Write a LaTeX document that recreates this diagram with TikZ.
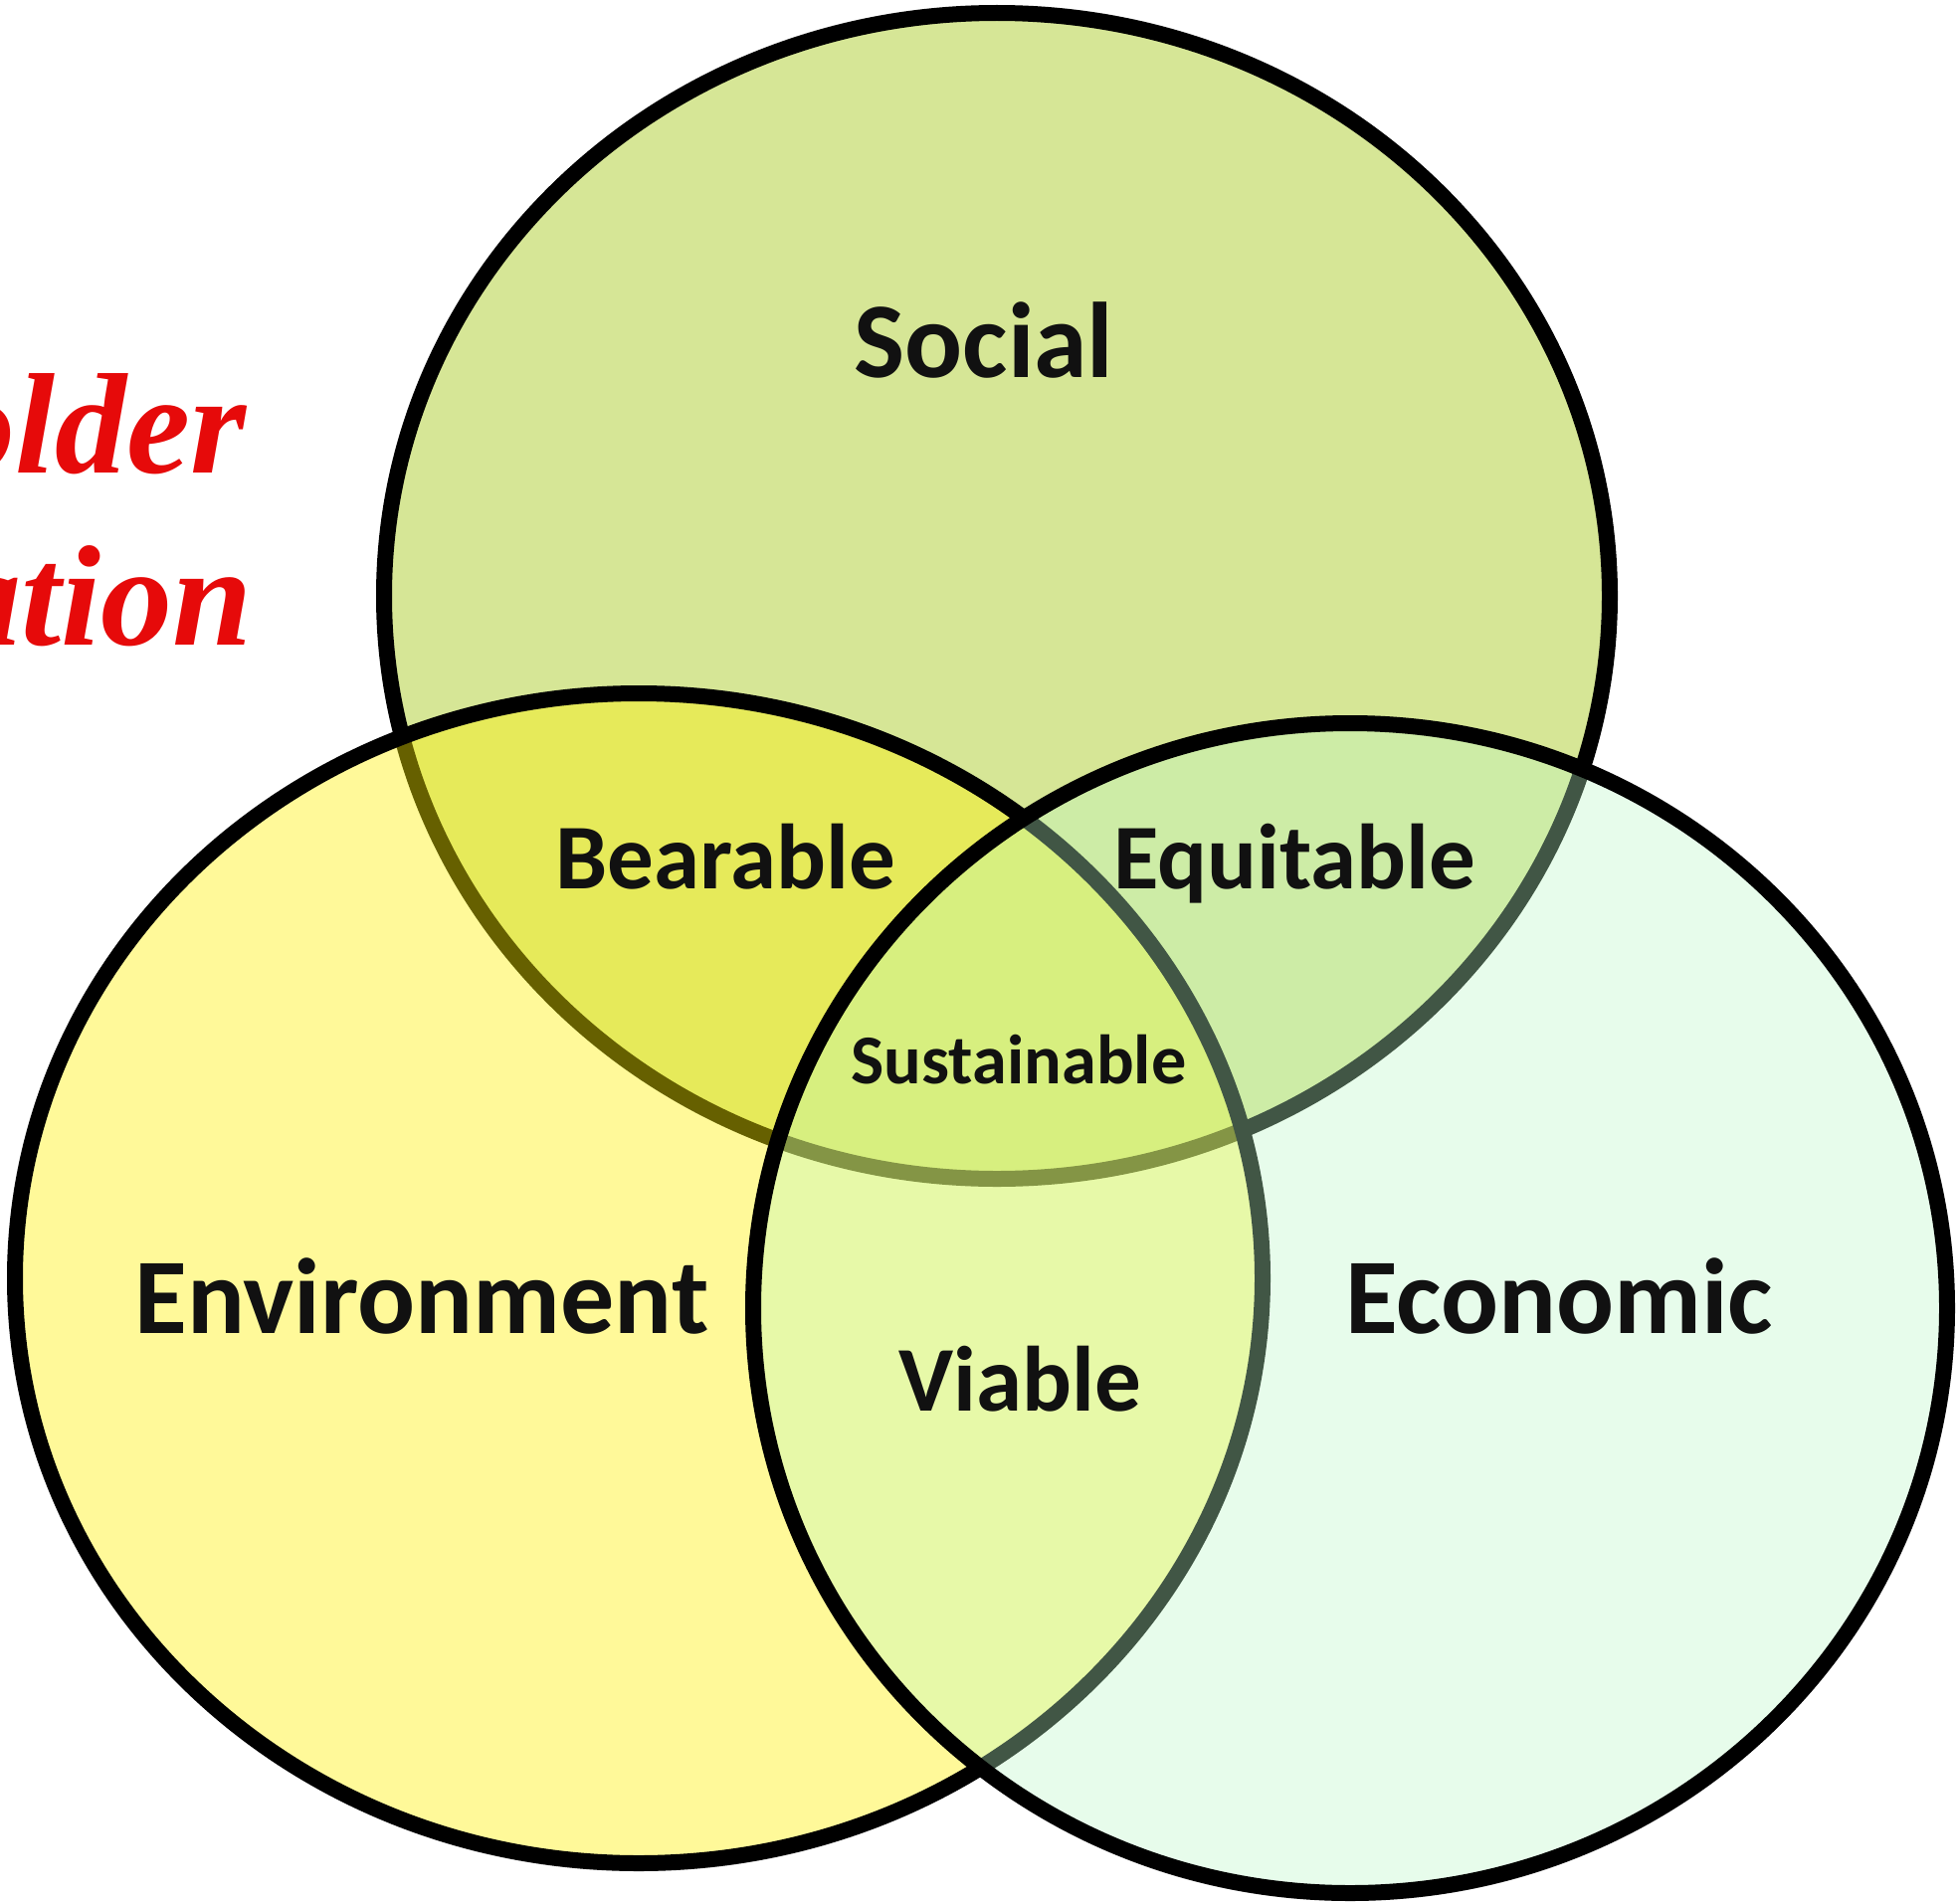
\documentclass[tikz,border=0pt]{standalone}
\usepackage{fontspec}
\setmainfont{Carlito}
\newfontfamily\redfont{Liberation Serif}
\definecolor{socialfill}{RGB}{214,230,150}
\definecolor{envfill}{RGB}{255,242,0}
\definecolor{econfill}{RGB}{189,249,198}
\definecolor{redtext}{RGB}{230,10,10}
\definecolor{labeltext}{RGB}{17,17,17}
\tikzset{
  ring/.style={draw=black, line width=16*0.02cm},
  biglabel/.style={anchor=base, inner sep=0pt, text=labeltext, font=\fontsize{61.5}{61.5}\selectfont\bfseries},
  midlabel/.style={anchor=base, inner sep=0pt, text=labeltext, font=\fontsize{53}{53}\selectfont\bfseries},
  smalllabel/.style={anchor=base, inner sep=0pt, text=labeltext, font=\fontsize{40}{40}\selectfont\bfseries},
  redlabel/.style={anchor=base east, inner sep=0pt, text=redtext, font=\redfont\fontsize{82}{82}\selectfont\bfseries\itshape}
}
\begin{document}
\begin{tikzpicture}[x=0.02cm, y=-0.02cm]
\useasboundingbox (0,0) rectangle (1967,1913);
\clip (0,0) rectangle (1967,1913);
\fill[white] (0,0) rectangle (1967,1913);
% red text cut at the left edge
\node[redlabel] (red1) at (248,475) {older};
\node[redlabel] (red2) at (254,648) {ation};
% circles
\path[ring, fill=socialfill] (1002,599) ellipse [x radius=616, y radius=586];
\path[ring, fill=envfill, fill opacity=0.4] (642,1285) ellipse [x radius=627, y radius=588];
\path[ring, fill=econfill, fill opacity=0.35] (1357,1315) ellipse [x radius=600, y radius=588];
% labels
\node[biglabel] (social) at (989,379) {Social};
\node[midlabel] (bearable) at (729,893) {Bearable};
\node[midlabel] (equitable) at (1301,893) {Equitable};
\node[smalllabel] (sustainable) at (1024,1089) {Sustainable};
\node[biglabel] (environment) at (424,1340) {Environment};
\node[biglabel] (economic) at (1567,1340) {Economic};
\node[midlabel] (viable) at (1025,1418) {Viable};
\end{tikzpicture}
\end{document}
